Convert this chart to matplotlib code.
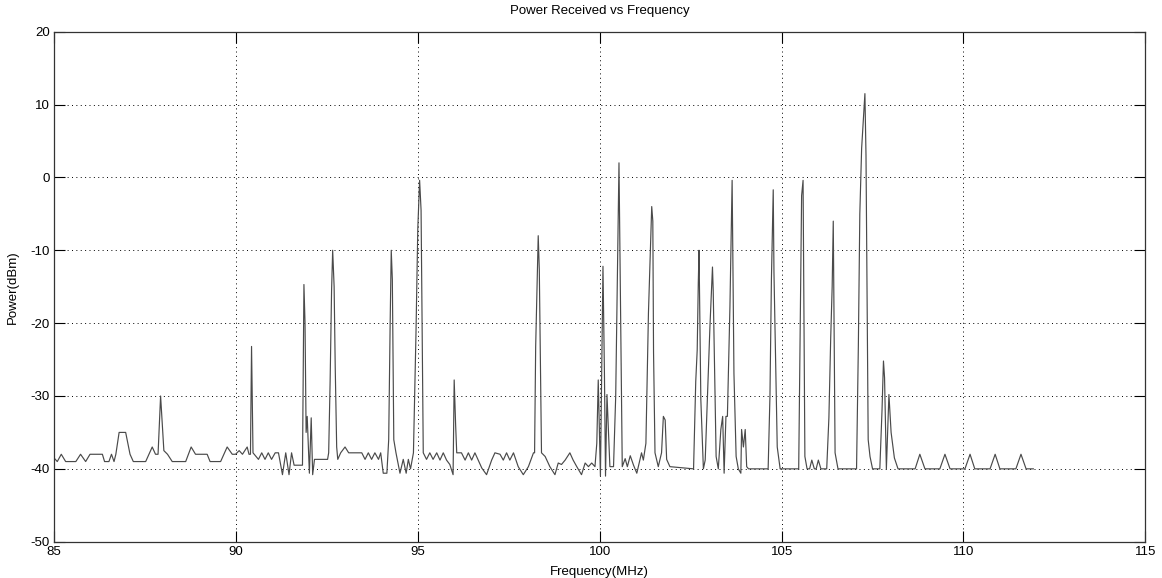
import matplotlib
matplotlib.use("Agg")
import matplotlib.pyplot as plt

plt.rcParams['font.family'] = ['Liberation Sans', 'DejaVu Sans']

title = "Power Received vs Frequency"
xlabel = "Frequency(MHz)"
ylabel = "Power(dBm)"
x_ticks = [85, 90, 95, 100, 105, 110, 115]
y_ticks = [-50, -40, -30, -20, -10, 0, 10, 20]

freq_mhz = [
    85.00, 85.09, 85.20, 85.32, 85.60, 85.73, 85.87, 85.99, 86.33, 86.39,
    86.51, 86.58, 86.65, 86.70, 86.79, 86.97, 87.09, 87.18, 87.52, 87.70,
    87.79, 87.86, 87.93, 88.02, 88.12, 88.25, 88.62, 88.77, 88.89, 89.21,
    89.29, 89.58, 89.76, 89.90, 89.99, 90.09, 90.18, 90.31, 90.36, 90.40,
    90.43, 90.47, 90.62, 90.71, 90.80, 90.89, 90.98, 91.08, 91.17, 91.28,
    91.37, 91.46, 91.53, 91.60, 91.83, 91.87, 91.90, 91.93, 91.96, 92.02,
    92.07, 92.11, 92.16, 92.52, 92.55, 92.59, 92.63, 92.66, 92.70, 92.73,
    92.77, 92.80, 92.88, 93.00, 93.10, 93.46, 93.55, 93.64, 93.73, 93.82,
    93.92, 93.98, 94.05, 94.15, 94.20, 94.24, 94.27, 94.30, 94.34, 94.40,
    94.51, 94.60, 94.68, 94.74, 94.80, 94.88, 94.92, 94.95, 95.00, 95.05,
    95.09, 95.15, 95.24, 95.33, 95.42, 95.52, 95.61, 95.70, 95.79, 95.88,
    95.97, 96.00, 96.04, 96.07, 96.20, 96.30, 96.39, 96.48, 96.57, 96.66,
    96.76, 96.89, 97.03, 97.12, 97.26, 97.35, 97.44, 97.53, 97.63, 97.76,
    97.90, 98.04, 98.18, 98.21, 98.24, 98.27, 98.31, 98.34, 98.40, 98.50,
    98.63, 98.77, 98.86, 98.95, 99.05, 99.18, 99.27, 99.37, 99.50, 99.60,
    99.69, 99.78, 99.87, 99.92, 99.96, 100.02, 100.09, 100.13, 100.16, 100.20,
    100.28, 100.38, 100.44, 100.53, 100.62, 100.70, 100.76, 100.84, 100.93, 101.02,
    101.15, 101.20, 101.27, 101.34, 101.38, 101.43, 101.46, 101.48, 101.52, 101.61,
    101.70, 101.75, 101.80, 101.84, 101.93, 102.58, 102.64, 102.68, 102.71, 102.73,
    102.76, 102.78, 102.85, 102.90, 103.03, 103.10, 103.12, 103.15, 103.20, 103.26,
    103.33, 103.38, 103.42, 103.47, 103.51, 103.58, 103.64, 103.69, 103.75, 103.81,
    103.88, 103.90, 103.95, 104.00, 104.04, 104.09, 104.63, 104.68, 104.72, 104.77,
    104.79, 104.88, 104.96, 105.47, 105.53, 105.55, 105.59, 105.64, 105.70, 105.77,
    105.83, 105.90, 105.95, 106.01, 106.08, 106.24, 106.30, 106.35, 106.39, 106.42,
    106.47, 106.55, 107.06, 107.11, 107.15, 107.20, 107.26, 107.29, 107.32, 107.38,
    107.43, 107.50, 107.70, 107.76, 107.80, 107.83, 107.88, 107.95, 108.01, 108.10,
    108.20, 108.67, 108.80, 108.94, 109.35, 109.49, 109.63, 110.04, 110.18, 110.31,
    110.73, 110.87, 111.00, 111.44, 111.58, 111.72, 111.92,
]

power_dbm = [
    -38.5, -39, -38, -39, -39, -38, -39, -38, -38, -39,
    -39, -38, -39, -38, -35, -35, -38, -39, -39, -37,
    -38, -38, -30, -37.5, -38, -39, -39, -37, -38, -38,
    -39, -39, -37, -38, -38, -37.5, -38, -37, -38, -38,
    -23.2, -37.8, -38.7, -37.8, -38.7, -37.8, -38.7, -37.8, -37.8, -40.8,
    -37.8, -40.8, -37.8, -39.5, -39.5, -14.7, -20, -35, -32.8, -40.6,
    -33, -40.8, -38.7, -38.7, -37.8, -28, -15.5, -10, -15, -26,
    -37, -38.7, -37.8, -37, -37.8, -37.8, -38.7, -37.8, -38.7, -37.8,
    -38.7, -37.8, -40.6, -40.6, -36, -20, -10, -14, -36, -37.8,
    -40.6, -38.7, -40.6, -38.7, -40, -37.8, -28.7, -21.4, -7, -0.4,
    -4.5, -37.8, -38.7, -37.8, -38.7, -37.8, -38.8, -37.8, -38.8, -39.4,
    -40.8, -27.8, -34, -37.8, -37.8, -38.8, -37.8, -38.8, -37.8, -38.8,
    -39.9, -40.8, -38.8, -37.8, -38, -38.8, -37.8, -38.8, -37.8, -39.7,
    -40.8, -39.7, -37.8, -37.8, -23.2, -16.8, -8, -12.7, -37.8, -38.3,
    -39.7, -40.8, -39.2, -39.4, -38.8, -37.8, -38.8, -39.7, -40.8, -39.2,
    -39.7, -39.2, -39.7, -36.5, -27.8, -41, -12.2, -26.9, -41, -29.8,
    -39.7, -39.7, -30, 2.0, -39.7, -38.6, -39.7, -38.2, -39.5, -40.6,
    -37.8, -38.8, -36.5, -18.6, -12, -4, -6, -24, -37.8, -39.7,
    -37.8, -32.8, -33.3, -38.7, -39.7, -40, -28, -23.7, -14.5, -10,
    -22, -30.5, -40, -38.8, -20.5, -12.3, -15.5, -24, -38.3, -40,
    -34.6, -32.8, -40.6, -32.8, -32.8, -17.7, -0.4, -26.9, -38.3, -40,
    -40.6, -34.6, -37, -34.6, -39.7, -40, -40, -30, -14, -1.7,
    -13, -37, -40, -40, -12, -2.5, -0.4, -38.3, -40, -40,
    -38.8, -40, -40, -38.8, -40, -40, -33, -22, -15, -6,
    -37.8, -40, -40, -23, -5, 4, 9, 11.5, 3, -36,
    -38.3, -40, -40, -32, -25.2, -27.5, -40, -29.8, -35, -38.5,
    -40, -40, -38, -40, -40, -38, -40, -40, -38, -40,
    -40, -38, -40, -40, -38, -40, -40,
]

W, H = 1162, 578
fig = plt.figure(figsize=(W / 100, H / 100), dpi=100)
left, right, top, bottom = 54, 1145.4, 31.7, 541.7
ax = fig.add_axes([left / W, 1 - bottom / H, (right - left) / W, (bottom - top) / H])

ax.plot(freq_mhz, power_dbm, color='#4a4a4a', linewidth=0.85)

ax.set_xlim(85, 115)
ax.set_ylim(-50, 20)
ax.set_xticks(x_ticks)
ax.set_yticks(y_ticks)
ax.set_xticklabels([str(t) for t in x_ticks])
ax.set_yticklabels([str(t) for t in y_ticks])

ax.grid(True, color='black', linestyle=(0, (1, 3.5)), linewidth=0.7)
ax.tick_params(direction='in', length=8, width=0.8, top=True, right=True,
               labelsize=9.5, pad=3, colors='black')
for s in ax.spines.values():
    s.set_linewidth(0.9)
    s.set_color('#333333')

ax.set_title(title, fontsize=9.5, pad=13)
ax.set_xlabel(xlabel, fontsize=9.5, labelpad=6)
ax.set_ylabel(ylabel, fontsize=9.5, labelpad=8)

fig.savefig("out.png", dpi=100, facecolor='white')
